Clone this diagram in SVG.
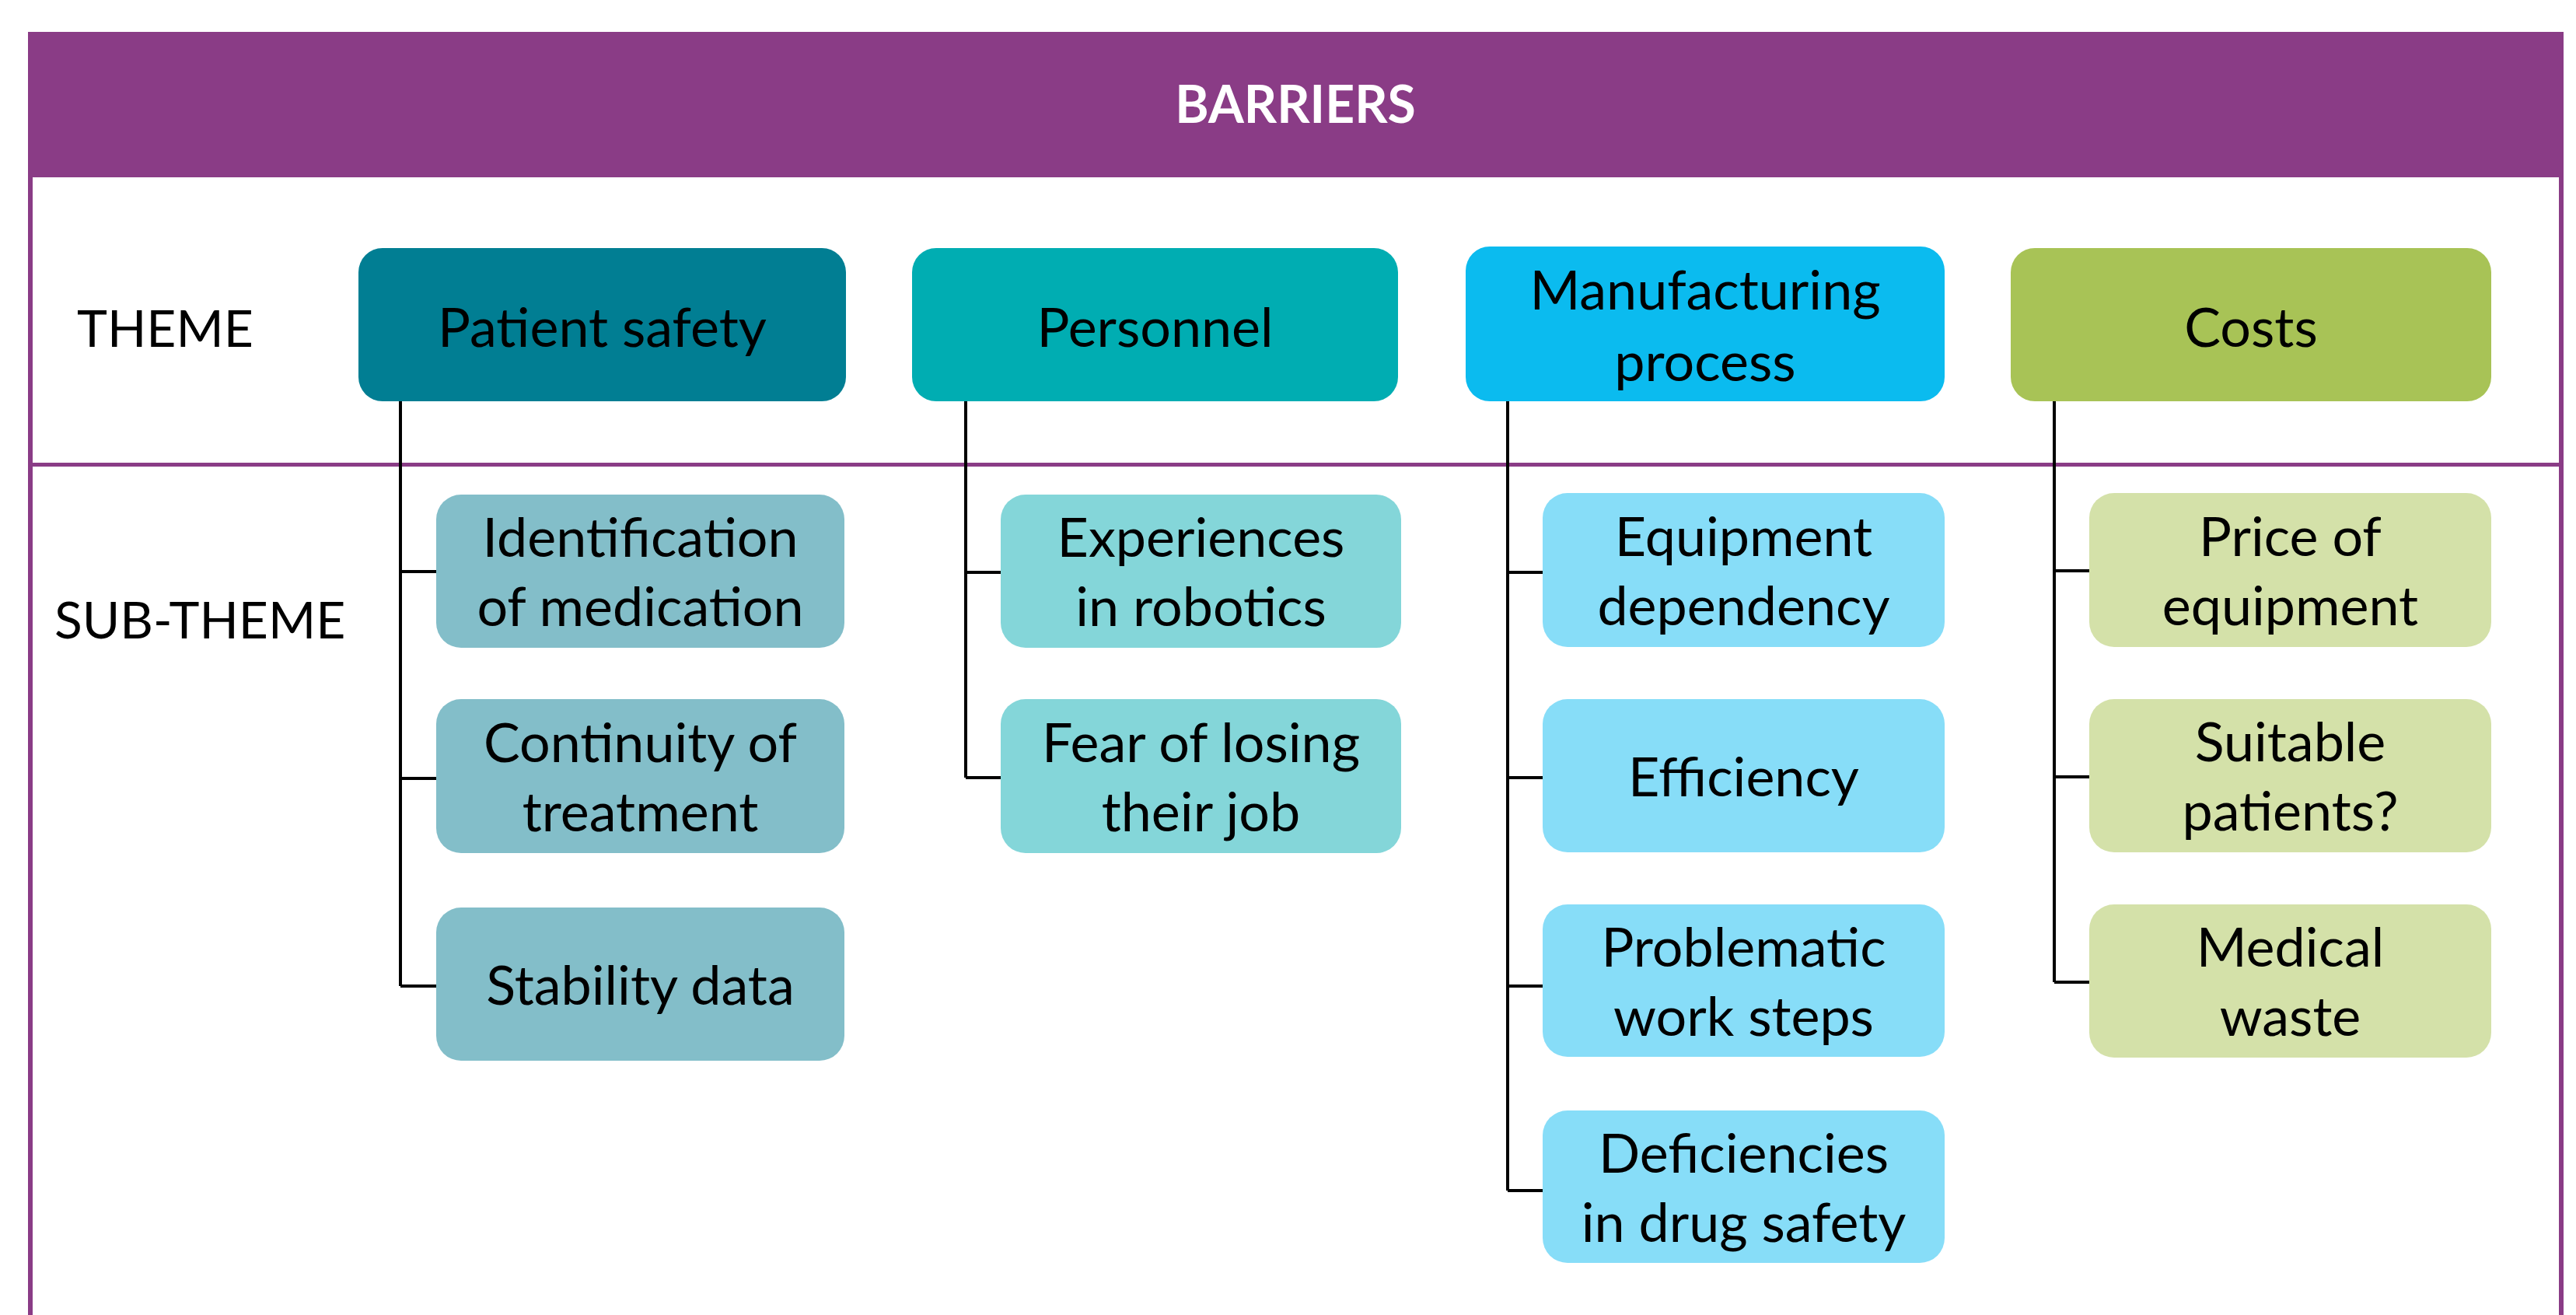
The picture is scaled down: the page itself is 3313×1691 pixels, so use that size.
<svg xmlns="http://www.w3.org/2000/svg" width="3313" height="1691" viewBox="0 0 3313 1691">
  <style>
    .t { font-family: Lato, "Open Sans", "Liberation Sans", sans-serif; font-size: 70px; fill: #000; text-anchor: middle; }
    .lbl { font-family: Lato, "Open Sans", "Liberation Sans", sans-serif; font-size: 66px; fill: #000; }
    .hdr { font-family: Lato, "Open Sans", "Liberation Sans", sans-serif; font-size: 66px; font-weight: bold; fill: #fff; text-anchor: middle; }
    .conn { stroke: #000; stroke-width: 4; fill: none; }
    .c1 { fill: #017E93; } .c2 { fill: #00ADB2; } .c3 { fill: #0BBBEF; } .c4 { fill: #A8C356; }
    .s1 { fill: #83BEC9; } .s2 { fill: #84D6D9; } .s3 { fill: #87DDF8; } .s4 { fill: #D4E1A9; }
  </style>
  <rect width="3313" height="1691" fill="#fff"/>
  <g id="frame">
    <rect x="39" y="44" width="3255" height="1700" fill="none" stroke="#8A3C86" stroke-width="6"/>
    <rect x="36" y="41" width="3261" height="187" fill="#8A3C86"/>
    <line x1="39" y1="597.5" x2="3294" y2="597.5" stroke="#8A3C86" stroke-width="5"/>
  </g>
  <g id="title"><text class="hdr" x="1666" y="158">BARRIERS</text></g>
  <g id="label-theme"><text class="lbl" x="99" y="446">THEME</text></g>
  <g id="label-subtheme"><text class="lbl" x="70" y="821">SUB-THEME</text></g>

  <g id="connectors" class="conn">
    <path d="M515 516 V1268 M515 735 H561 M515 1001 H561 M515 1268 H561"/>
    <path d="M1242 516 V1000 M1242 736 H1287 M1242 1000 H1287"/>
    <path d="M1939 516 V1531 M1939 736 H1984 M1939 1000 H1984 M1939 1268 H1984 M1939 1531 H1984"/>
    <path d="M2642 516 V1263 M2642 734 H2687 M2642 999 H2687 M2642 1263 H2687"/>
  </g>

  <g id="theme-patient-safety"><rect class="c1" x="461" y="319" width="627" height="197" rx="31"/><text class="t" x="774.5" y="446">Patient safety</text></g>
  <g id="theme-personnel"><rect class="c2" x="1173" y="319" width="625" height="197" rx="31"/><text class="t" x="1485.5" y="446">Personnel</text></g>
  <g id="theme-manufacturing"><rect class="c3" x="1885" y="317" width="616" height="199" rx="31"/><text class="t" x="2193" y="398">Manufacturing</text><text class="t" x="2193" y="490">process</text></g>
  <g id="theme-costs"><rect class="c4" x="2586" y="319" width="618" height="197" rx="31"/><text class="t" x="2895" y="446">Costs</text></g>

  <g id="sub-identification"><rect class="s1" x="561" y="636" width="525" height="197" rx="32"/><text class="t" x="823.5" y="716">Identification</text><text class="t" x="823.5" y="805">of medication</text></g>
  <g id="sub-continuity"><rect class="s1" x="561" y="899" width="525" height="198" rx="32"/><text class="t" x="823.5" y="980">Continuity of</text><text class="t" x="823.5" y="1069">treatment</text></g>
  <g id="sub-stability"><rect class="s1" x="561" y="1167" width="525" height="197" rx="32"/><text class="t" x="823.5" y="1292">Stability data</text></g>

  <g id="sub-experiences"><rect class="s2" x="1287" y="636" width="515" height="197" rx="32"/><text class="t" x="1544.5" y="716">Experiences</text><text class="t" x="1544.5" y="805">in robotics</text></g>
  <g id="sub-fear"><rect class="s2" x="1287" y="899" width="515" height="198" rx="32"/><text class="t" x="1544.5" y="980">Fear of losing</text><text class="t" x="1544.5" y="1069">their job</text></g>

  <g id="sub-equipment-dependency"><rect class="s3" x="1984" y="634" width="517" height="198" rx="32"/><text class="t" x="2242.5" y="715">Equipment</text><text class="t" x="2242.5" y="804">dependency</text></g>
  <g id="sub-efficiency"><rect class="s3" x="1984" y="899" width="517" height="197" rx="32"/><text class="t" x="2242.5" y="1024">Efficiency</text></g>
  <g id="sub-problematic"><rect class="s3" x="1984" y="1163" width="517" height="196" rx="32"/><text class="t" x="2242.5" y="1243">Problematic</text><text class="t" x="2242.5" y="1332">work steps</text></g>
  <g id="sub-deficiencies"><rect class="s3" x="1984" y="1428" width="517" height="196" rx="32"/><text class="t" x="2242.5" y="1508">Deficiencies</text><text class="t" x="2242.5" y="1597">in drug safety</text></g>

  <g id="sub-price"><rect class="s4" x="2687" y="634" width="517" height="198" rx="32"/><text class="t" x="2945.5" y="715">Price of</text><text class="t" x="2945.5" y="804">equipment</text></g>
  <g id="sub-suitable"><rect class="s4" x="2687" y="899" width="517" height="197" rx="32"/><text class="t" x="2945.5" y="979">Suitable</text><text class="t" x="2945.5" y="1068">patients?</text></g>
  <g id="sub-medical-waste"><rect class="s4" x="2687" y="1163" width="517" height="197" rx="32"/><text class="t" x="2945.5" y="1243">Medical</text><text class="t" x="2945.5" y="1332">waste</text></g>
</svg>
